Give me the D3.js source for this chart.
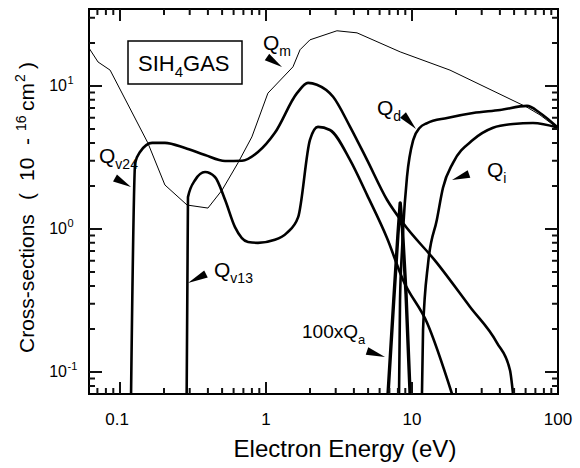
<!DOCTYPE html>
<html>
<head>
<meta charset="utf-8">
<script src="https://cdn.jsdelivr.net/npm/d3@7"></script>
<style>
  html, body { margin: 0; padding: 0; background: #fff; }
  svg { display: block; font-family: "Liberation Sans", Arial, sans-serif; }
</style>
</head>
<body>
<div id="chart"></div>
<script>
// --- data (energy in eV, cross-section in 1e-16 cm^2) ---
const qmE   = [0.0613, 0.0707, 0.0855, 0.155, 0.203, 0.288, 0.40, 0.50, 0.643, 0.80, 1.03, 1.53, 1.71, 2.0, 3.06, 4.2, 8.3, 18.2, 61.3, 75.3, 98.4];
const qmQ   = [18.4, 14.7, 12.9, 4.0, 2.03, 1.47, 1.40, 1.87, 2.9, 4.4, 8.9, 13.6, 17.9, 21, 24.3, 23.5, 17.3, 12.9, 7.1, 6.27, 5.1];

const qv24E = [0.119, 0.127, 0.137, 0.166, 0.203, 0.279, 0.382, 0.524, 0.685, 0.881, 1.15, 1.63, 1.94, 2.23, 2.88, 3.76, 4.92, 6.74, 8.68, 14.8, 25, 38.2, 46.9, 49.2];
const qv24Q = [0.0702, 2.9, 3.45, 4.0, 4.0, 3.68, 3.29, 2.99, 3.0, 3.45, 4.7, 8.9, 10.5, 10.2, 8.4, 5.2, 3.04, 1.6, 1.1, 0.58, 0.285, 0.16, 0.103, 0.0702];

const qv13E = [0.286, 0.292, 0.327, 0.382, 0.447, 0.524, 0.613, 0.753, 0.881, 1.15, 1.39, 1.66, 2.0, 2.27, 2.74, 3.76, 4.92, 6.74, 8.68, 12.7, 18.8];
const qv13Q = [0.0702, 1.67, 2.2, 2.5, 2.31, 1.6, 1.03, 0.81, 0.80, 0.84, 0.94, 1.21, 4.2, 5.17, 4.92, 3.04, 1.73, 0.865, 0.44, 0.22, 0.0702];

const qaE   = [6.85, 7.5, 8.0, 8.3, 8.6, 9.1, 9.7];
const qaQ   = [0.0702, 0.32, 0.9, 1.52, 1.0, 0.35, 0.0702];

const qdE   = [8.15, 8.28, 8.54, 8.68, 9.24, 10.2, 11.3, 12.7, 17.4, 26.2, 40.1, 61.3, 75.3, 100];
const qdQ   = [0.0702, 0.32, 0.71, 0.98, 2.31, 4.2, 5.1, 5.5, 5.97, 6.47, 6.79, 7.25, 6.47, 5.1];

const qiE   = [11.7, 11.9, 12.9, 14.8, 16.3, 19.1, 26.2, 35.9, 49.2, 67.4, 100];
const qiQ   = [0.0702, 0.197, 0.58, 1.16, 1.94, 2.9, 4.2, 5.1, 5.42, 5.5, 5.1];

const xMajor = [0.1, 1, 10, 100];
const xMajorLabels = ['0.1', '1', '10', '100'];
const yMajor = [0.1, 1, 10];
const yMajorExp = ['-1', '0', '1'];
const minorSteps = [2, 3, 4, 5, 6, 7, 8, 9];

// --- layout ---
const W = 580, H = 468;
const L = 89, R = 558, T = 9, B = 394;

const svg = d3.select('#chart').append('svg').attr('width', W).attr('height', H);

const x = d3.scaleLog().domain([0.0613, 100]).range([L, R]);
const y = d3.scaleLog().domain([0.0702, 34.5]).range([B, T]);

// curves
const curves = svg.append('g').attr('fill', 'none').attr('stroke', '#000')
  .attr('stroke-linejoin', 'round');

function draw(E, Q, w, curve) {
  const pts = E.map((e, i) => [e, Q[i]]);
  const line = d3.line().x(d => x(d[0])).y(d => y(d[1])).curve(curve);
  curves.append('path').datum(pts).attr('stroke-width', w).attr('d', line);
}
draw(qmE, qmQ, 1, d3.curveLinear);
draw(qv24E, qv24Q, 2.6, d3.curveMonotoneX);
draw(qv13E, qv13Q, 2.6, d3.curveMonotoneX);
draw(qaE, qaQ, 3.4, d3.curveLinear);
draw(qdE, qdQ, 2.6, d3.curveMonotoneX);
draw(qiE, qiQ, 2.6, d3.curveMonotoneX);

// frame
svg.append('rect').attr('x', L).attr('y', T).attr('width', R - L).attr('height', B - T)
  .attr('fill', 'none').attr('stroke', '#000').attr('stroke-width', 2);

// x tick labels
svg.append('g').selectAll('text').data(xMajor).join('text')
  .attr('x', d => x(d) - (d === 0.1 ? 3 : 0))
  .attr('y', 425)
  .attr('text-anchor', 'middle')
  .attr('font-size', 17)
  .text((d, i) => xMajorLabels[i]);

// y tick labels 10^n
yMajor.forEach((v, i) => {
  svg.append('text').attr('x', 67).attr('y', y(v) + 5)
    .attr('text-anchor', 'end').attr('font-size', 16).text('10');
  svg.append('text').attr('x', 67.5).attr('y', y(v) - 2)
    .attr('font-size', 11).text(yMajorExp[i]);
});

// axis titles
svg.append('text').attr('x', 345).attr('y', 457).attr('text-anchor', 'middle')
  .attr('font-size', 24).text('Electron Energy (eV)');

const yt = svg.append('g').attr('transform', 'translate(34,353) rotate(-90)').attr('font-size', 21);
yt.append('text').attr('x', 0).attr('y', 0).text('Cross-sections');
yt.append('text').attr('x', 153).attr('y', 0).text('(');
yt.append('text').attr('x', 172).attr('y', 0).text('10');
yt.append('text').attr('x', 208).attr('y', 0).text('-');
yt.append('text').attr('x', 222).attr('y', -8).attr('font-size', 14).text('16');
yt.append('text').attr('x', 242).attr('y', 0).text('cm');
yt.append('text').attr('x', 271).attr('y', -9).attr('font-size', 14).text('2');
yt.append('text').attr('x', 284).attr('y', 0).text(')');

// gas label box
svg.append('rect').attr('x', 128).attr('y', 41).attr('width', 114).attr('height', 43)
  .attr('fill', '#fff').attr('stroke', '#000').attr('stroke-width', 1.5);
const gas = svg.append('text').attr('x', 138).attr('y', 71).attr('font-size', 22);
gas.append('tspan').text('SIH');
gas.append('tspan').attr('font-size', 15).attr('dy', 6).text('4');
gas.append('tspan').attr('dy', -6).text('GAS');

// curve labels: Q with subscript
function qLabel(px, py, sub) {
  const t = svg.append('text').attr('x', px).attr('y', py).attr('font-size', 21);
  t.append('tspan').text('Q');
  t.append('tspan').attr('font-size', 14).attr('dy', 6).text(sub);
}
qLabel(263, 50, 'm');
qLabel(99, 163, 'v24');
qLabel(214, 277, 'v13');
qLabel(377, 115, 'd');
qLabel(487, 177, 'i');
const qa = svg.append('text').attr('x', 302).attr('y', 338).attr('font-size', 19);
qa.append('tspan').text('100xQ');
qa.append('tspan').attr('font-size', 13).attr('dy', 6).text('a');

// arrowheads: filled narrow triangles from tail to tip
function arrow(x0, y0, x1, y1) {
  const dx = x1 - x0, dy = y1 - y0, len = Math.hypot(dx, dy);
  const nx = -dy / len * 4, ny = dx / len * 4;
  svg.append('path')
    .attr('d', `M${x1},${y1}L${x0 + nx},${y0 + ny}L${x0 - nx},${y0 - ny}Z`)
    .attr('fill', '#000');
}
arrow(267, 57, 282, 67);
arrow(115, 178, 131, 187);
arrow(206, 274, 188, 283);
arrow(367, 351, 385, 357);
arrow(403, 115, 416, 129);
arrow(469, 174, 452, 180);

// inward ticks on all four sides, drawn last so nothing covers them
const minorX = [], minorY = [];
[0.01, 0.1, 1, 10].forEach(dv => minorSteps.forEach(m => {
  const v = m * dv;
  if (v > 0.0613 && v < 100) minorX.push(v);
  if (v > 0.0702 && v < 34.5) minorY.push(v);
}));
let td = '';
[0.1, 1, 10].forEach(v => { td += `M${x(v).toFixed(1)},${B}V${B - 12}M${x(v).toFixed(1)},${T}V${T + 12}`; });
minorX.forEach(v => { td += `M${x(v).toFixed(1)},${B}V${B - 6}M${x(v).toFixed(1)},${T}V${T + 6}`; });
yMajor.forEach(v => { td += `M${L},${y(v).toFixed(1)}H${L + 13}M${R},${y(v).toFixed(1)}H${R - 13}`; });
minorY.forEach(v => { td += `M${L},${y(v).toFixed(1)}H${L + 6}M${R},${y(v).toFixed(1)}H${R - 6}`; });
svg.append('path').attr('d', td).attr('fill', 'none').attr('stroke', '#111').attr('stroke-width', 2);
</script>
</body>
</html>
